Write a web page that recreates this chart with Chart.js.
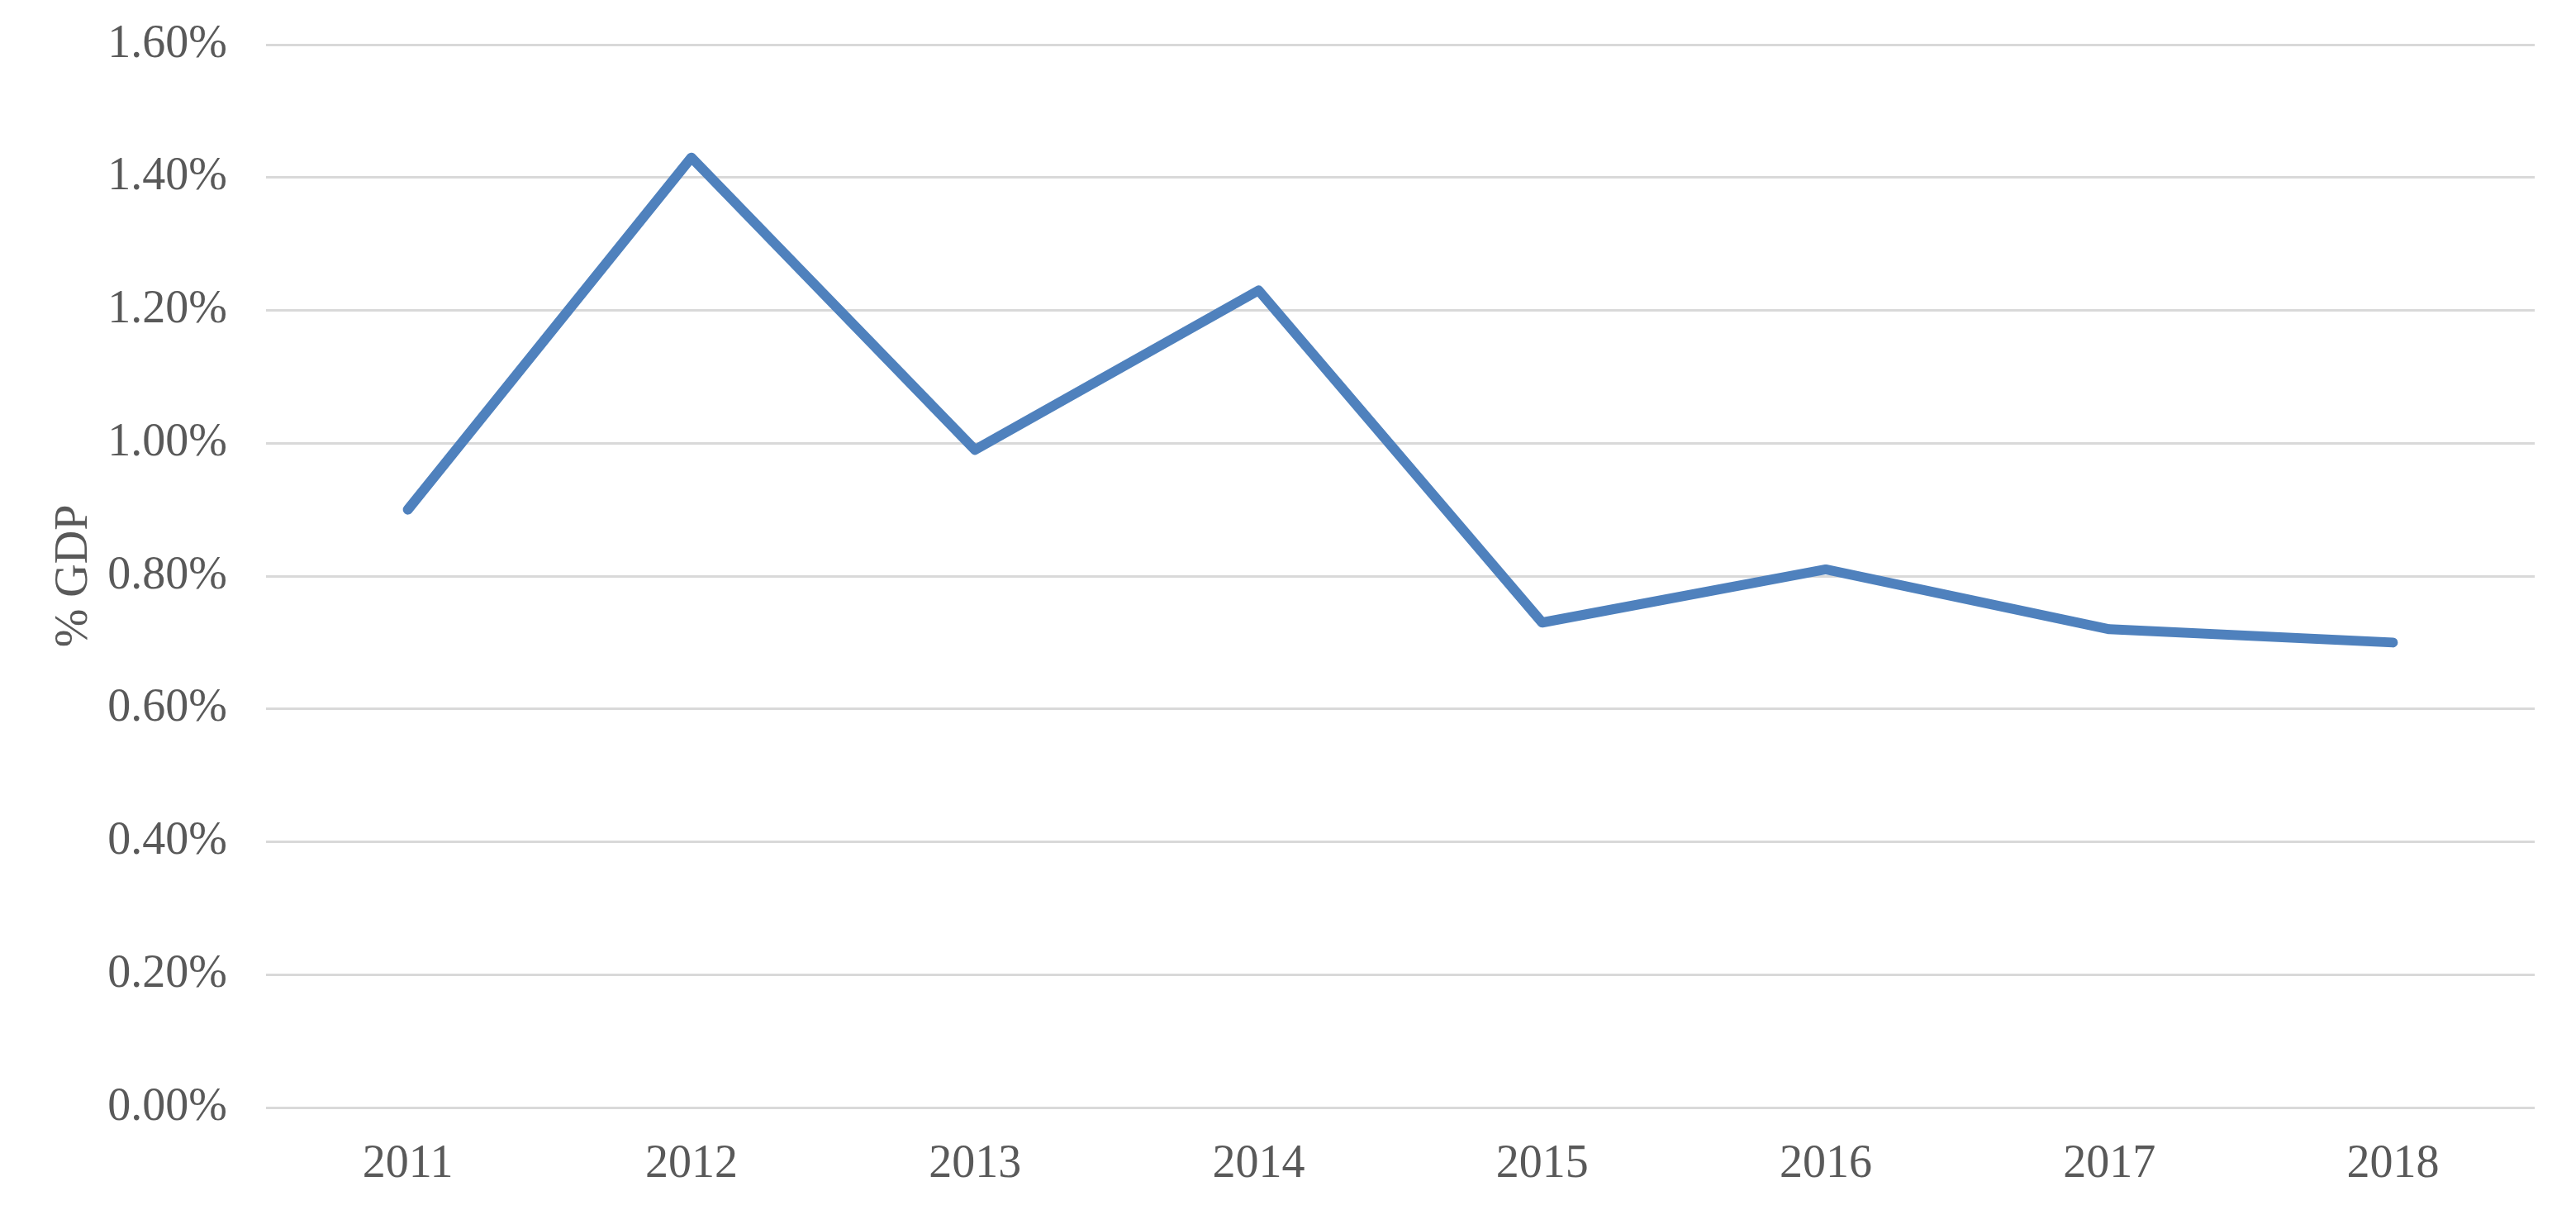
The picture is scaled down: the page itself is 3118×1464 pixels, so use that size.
<!DOCTYPE html>
<html>
<head>
<meta charset="utf-8">
<script src="https://cdn.jsdelivr.net/npm/chart.js@4/dist/chart.umd.min.js"></script>
<style>
  html, body { margin:0; padding:0; background:#fff; }
  #wrap { width:3118px; height:1464px; position:relative; }
</style>
</head>
<body>
<div id="wrap"><canvas id="gdpChart"></canvas></div>
<script>
// data (% of GDP)
const years = ['2011','2012','2013','2014','2015','2016','2017','2018'];
const gdpShare = [0.90, 1.43, 0.99, 1.23, 0.73, 0.81, 0.72, 0.70];
const yTicks = [0, 0.2, 0.4, 0.6, 0.8, 1.0, 1.2, 1.4, 1.6];

const textGrey = '#595959';
const serif = '"Liberation Serif", "Times New Roman", serif';

(function(){
  const ctxEl = document.getElementById('gdpChart');
  if (!ctxEl) return;

  new Chart(ctxEl, {
    type: 'line',
    data: {
      labels: years,
      datasets: [
        {label:'% GDP', data:gdpShare, tension:0, borderColor:'#4f81bd', backgroundColor:'#4f81bd',
         borderWidth:12, pointRadius:0, borderCapStyle:'round', borderJoinStyle:'round', fill:false}
      ]
    },
    options: {
      responsive:true,
      maintainAspectRatio:false,
      animation:false,
      layout:{autoPadding:false, padding:{top:54, right:50, bottom:0, left:0}},
      plugins:{
        legend:{display:false},
        tooltip:{enabled:false}
      },
      scales:{
        y:{
          min:yTicks[0], max:yTicks[yTicks.length-1],
          afterBuildTicks:(s)=>{ s.ticks = yTicks.map(v=>({value:v})); },
          // pin the plot area to the reference's edges
          afterFit:(s)=>{ s.width = 322; s.paddingTop = 0; s.paddingBottom = 0; },
          ticks:{padding:47, color:textGrey, font:{family:serif, size:56},
                 callback:(v)=> v.toFixed(2) + '%'},
          grid:{color:'#d9d9d9', lineWidth:3, drawTicks:false},
          border:{display:false},
          title:{display:true, text:'% GDP', color:textGrey, font:{family:serif, size:56},
                 padding:{top:57, bottom:0}}
        },
        x:{
          offset:true,
          afterFit:(s)=>{ s.height = 124; },
          ticks:{padding:36, color:textGrey, font:{family:serif, size:56}, maxRotation:0},
          grid:{display:false, drawTicks:false},
          border:{display:false}
        }
      }
    }
  });
})();
</script>
</body>
</html>
